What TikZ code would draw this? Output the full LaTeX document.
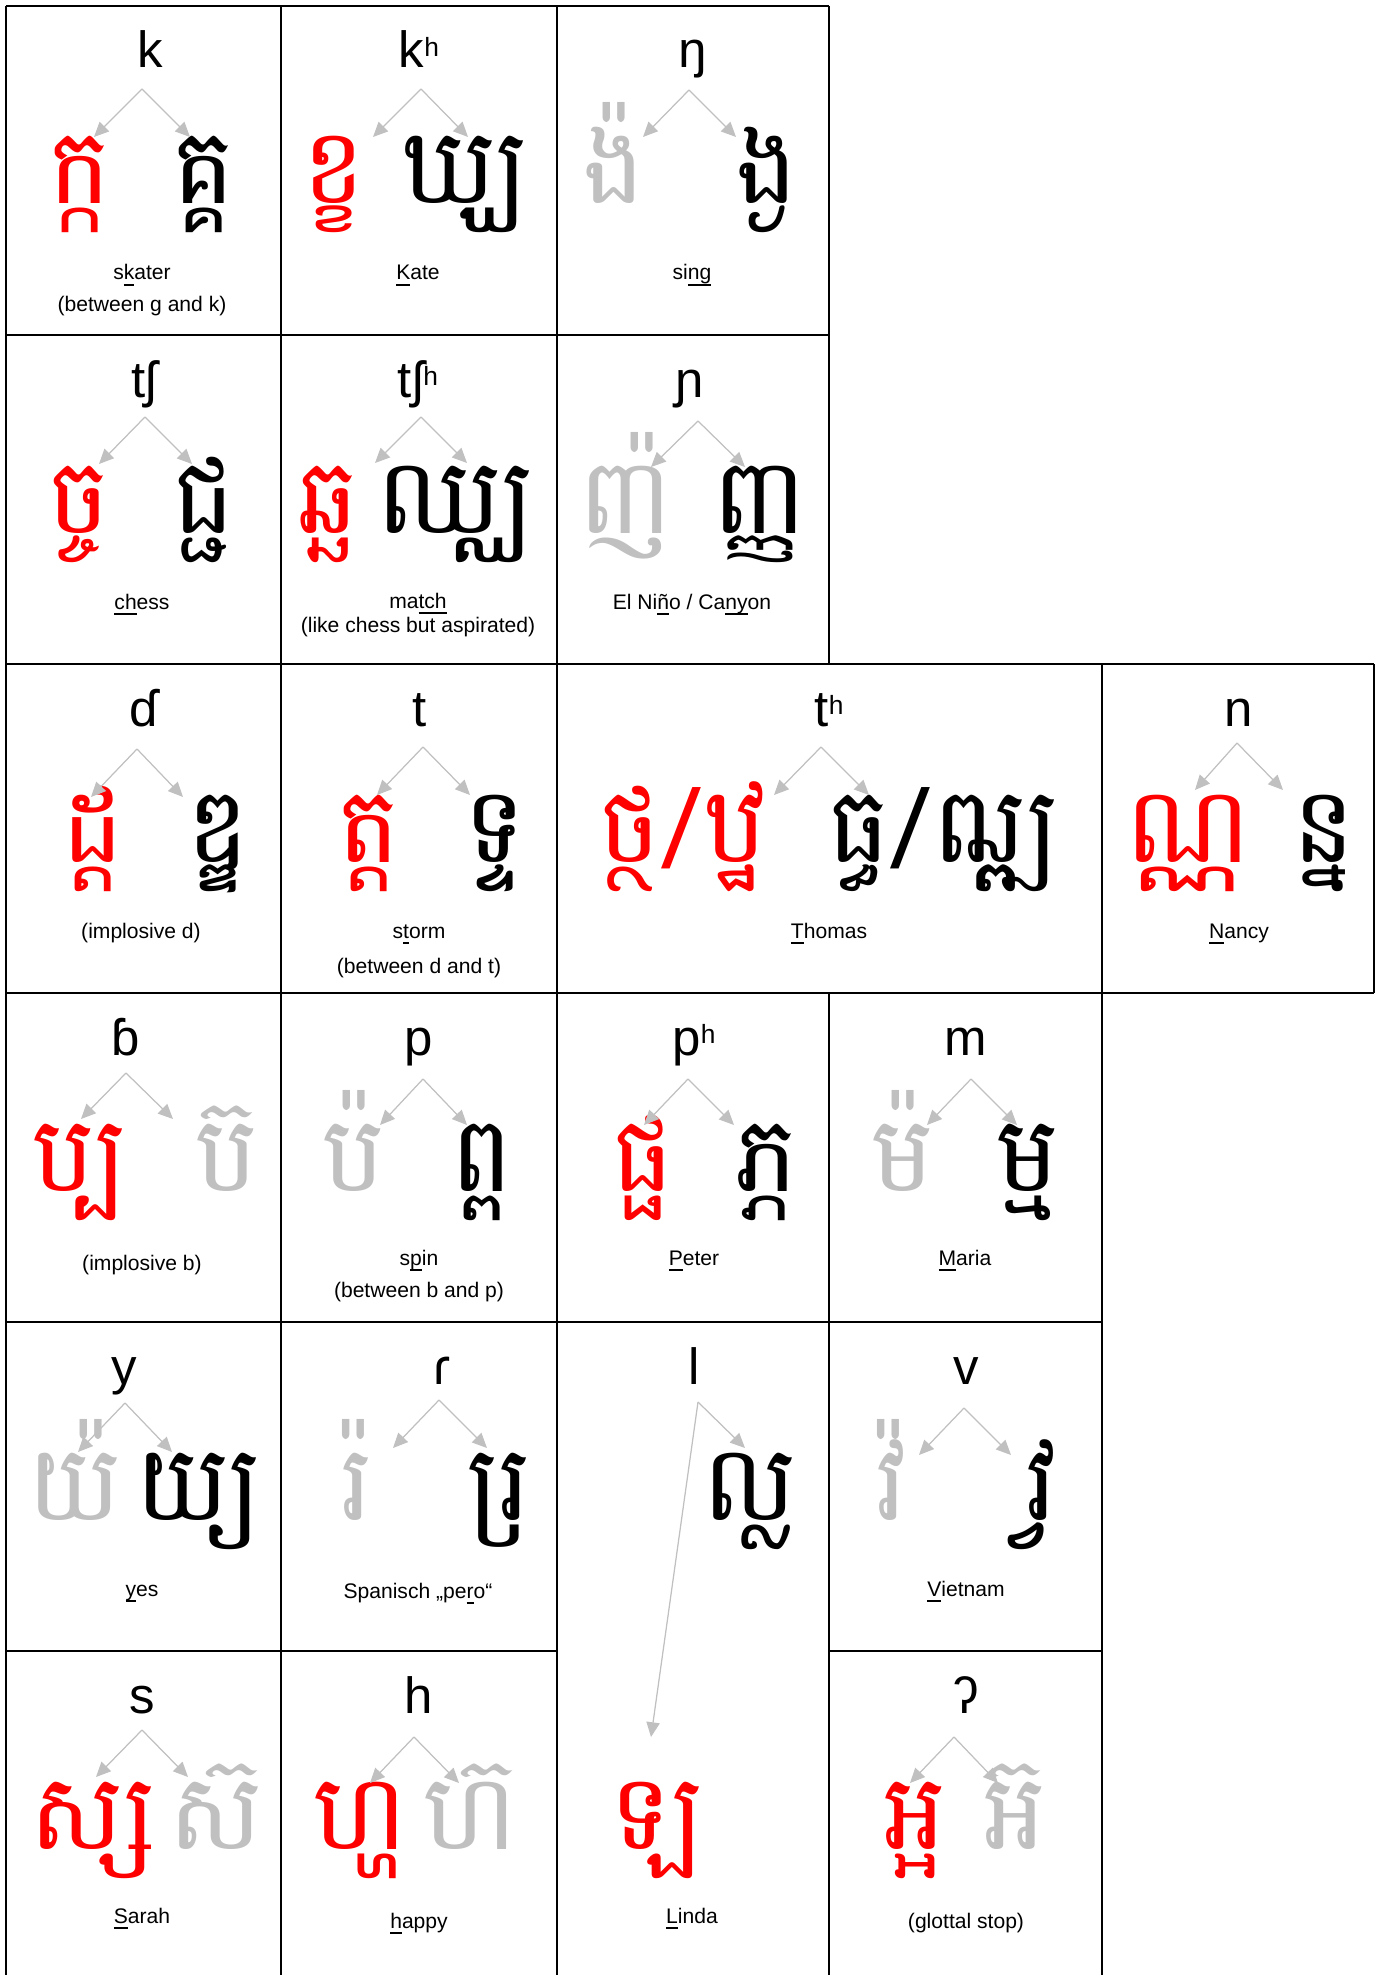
\documentclass[tikz,border=0pt]{standalone}
\usepackage{fontspec}
\setmainfont{Liberation Sans}
\newfontfamily\khmerfont[Script=Khmer]{Battambang}
\usetikzlibrary{arrows.meta}
\definecolor{cRed}{HTML}{FF0000}
\definecolor{cGrey}{HTML}{C0C0C0}
\definecolor{cInk}{HTML}{000000}
\newcommand\asp{\raisebox{3.4pt}{\fontsize{7.5}{8}\selectfont h}}
\newcommand\ul[1]{\underline{\smash{#1}}}
\tikzset{
  every picture/.style={line width=0.35pt},
  rule/.style={draw=cInk, line width=0.35pt},
  ipa/.style={anchor=base, inner sep=0pt, font=\fontsize{14.5}{16}\selectfont, text=cInk},
  gly/.style={anchor=base, inner sep=0pt, font=\khmerfont\fontsize{30}{32}\selectfont},
  rgly/.style={gly, text=cRed},
  bgly/.style={gly, text=cInk},
  ggly/.style={gly, text=cGrey},
  lab/.style={anchor=base, inner sep=0pt, font=\fontsize{6}{7}\selectfont, text=cInk},
  split/.style={-{Triangle[length=4.2pt,width=3.8pt]}, draw=cGrey, fill=cGrey, line width=0.35pt},
}

\begin{document}
\begin{tikzpicture}[x=1cm,y=1cm]
\useasboundingbox (0,0) rectangle (13.83,-19.75);

% ================================================== table rules
\draw[rule] (0.06,-0.06) -- (8.29,-0.06);
\draw[rule] (0.06,-3.35) -- (8.29,-3.35);
\draw[rule] (0.06,-6.64) -- (13.74,-6.64);
\draw[rule] (0.06,-9.93) -- (13.74,-9.93);
\draw[rule] (0.06,-13.22) -- (11.02,-13.22);
\draw[rule] (0.06,-16.51) -- (5.57,-16.51);
\draw[rule] (8.29,-16.51) -- (11.02,-16.51);
\draw[rule] (0.06,-0.06) -- (0.06,-19.75);
\draw[rule] (2.81,-0.06) -- (2.81,-19.75);
\draw[rule] (5.57,-0.06) -- (5.57,-19.75);
\draw[rule] (8.29,-0.06) -- (8.29,-6.64);
\draw[rule] (8.29,-9.93) -- (8.29,-19.75);
\draw[rule] (11.02,-6.64) -- (11.02,-19.75);
\draw[rule] (13.74,-6.64) -- (13.74,-9.93);

% ================================================== row 1: k, kh, ng
\begin{scope}[yshift=-0.06cm]
\node[ipa] (kIpa) at (1.50,-0.62) {k};
\coordinate (kTop) at (1.42,-0.83);
\coordinate (kL) at (0.94,-1.31);
\coordinate (kR) at (1.90,-1.31);
\node[rgly] (kRed) at (0.80,-1.98) {ក្ក};
\node[bgly] (kBlack) at (2.04,-1.98) {គ្គ};
\node[lab] (kLab) at (1.42,-2.74) {s\ul{k}ater};
\node[lab] (kLabB) at (1.42,-3.06) {(between g and k)};
\draw[split] (kTop) -- (kL);
\draw[split] (kTop) -- (kR);

\node[ipa] (khIpa) at (4.19,-0.62) {k\asp};
\coordinate (khTop) at (4.21,-0.83);
\coordinate (khL) at (3.73,-1.31);
\coordinate (khR) at (4.68,-1.31);
\node[rgly] (khRed) at (3.34,-1.98) {ខ្ខ};
\node[bgly] (khBlack) at (4.65,-1.98) {ឃ្ឃ};
\node[lab] (khLab) at (4.18,-2.74) {\ul{K}ate};
\draw[split] (khTop) -- (khL);
\draw[split] (khTop) -- (khR);

\node[ipa] (ngIpa) at (6.93,-0.62) {ŋ};
\coordinate (ngTop) at (6.89,-0.84);
\coordinate (ngL) at (6.43,-1.31);
\coordinate (ngR) at (7.36,-1.31);
\node[ggly] (ngGrey) at (6.14,-1.98) {ង៉};
\node[bgly] (ngBlack) at (7.67,-1.98) {ង្ង};
\node[lab] (ngLab) at (6.92,-2.74) {si\ul{ng}};
\draw[split] (ngTop) -- (ngL);
\draw[split] (ngTop) -- (ngR);
\end{scope}

% ================================================== row 2: tsh, tshh, ny
\begin{scope}[yshift=-3.35cm]
\node[ipa] (chIpa) at (1.44,-0.62) {tʃ};
\coordinate (chTop) at (1.45,-0.82);
\coordinate (chL) at (0.99,-1.29);
\coordinate (chR) at (1.92,-1.29);
\node[rgly] (chRed) at (0.79,-1.98) {ច្ច};
\node[bgly] (chBlack) at (2.04,-1.98) {ជ្ជ};
\node[lab] (chLab) at (1.42,-2.74) {\ul{ch}ess};
\draw[split] (chTop) -- (chL);
\draw[split] (chTop) -- (chR);

\node[ipa] (chhIpa) at (4.18,-0.62) {tʃ\asp};
\coordinate (chhTop) at (4.21,-0.82);
\coordinate (chhL) at (3.75,-1.28);
\coordinate (chhR) at (4.67,-1.28);
\node[rgly] (chhRed) at (3.28,-1.98) {ឆ្ឆ};
\node[bgly] (chhBlack) at (4.55,-1.98) {ឈ្ឈ};
\node[lab] (chhLab) at (4.18,-2.73) {ma\ul{tch}};
\node[lab] (chhLabB) at (4.18,-2.97) {(like chess but aspirated)};
\draw[split] (chhTop) -- (chhL);
\draw[split] (chhTop) -- (chhR);

\node[ipa] (nyIpa) at (6.90,-0.62) {ɲ};
\coordinate (nyTop) at (6.98,-0.86);
\coordinate (nyL) at (6.51,-1.32);
\coordinate (nyR) at (7.45,-1.32);
\node[ggly] (nyGrey) at (6.26,-1.98) {ញ៉};
\node[bgly] (nyBlack) at (7.60,-1.98) {ញ្ញ};
\node[lab] (nyLab) at (6.92,-2.74) {El Ni\ul{ñ}o / Ca\ul{ny}on};
\draw[split] (nyTop) -- (nyL);
\draw[split] (nyTop) -- (nyR);
\end{scope}

% ================================================== row 3: implosive d, t, th, n
\begin{scope}[yshift=-6.64cm]
\node[ipa] (ddIpa) at (1.44,-0.62) {ɗ};
\coordinate (ddTop) at (1.37,-0.85);
\coordinate (ddL) at (0.91,-1.33);
\coordinate (ddR) at (1.83,-1.33);
\node[rgly] (ddRed) at (0.93,-1.98) {ដ្ដ};
\node[bgly] (ddBlack) at (2.18,-1.98) {ឌ្ឌ};
\node[lab] (ddLab) at (1.41,-2.74) {(implosive d)};
\draw[split] (ddTop) -- (ddL);
\draw[split] (ddTop) -- (ddR);

\node[ipa] (tIpa) at (4.20,-0.62) {t};
\coordinate (tTop) at (4.23,-0.83);
\coordinate (tL) at (3.77,-1.31);
\coordinate (tR) at (4.70,-1.31);
\node[rgly] (tRed) at (3.69,-1.98) {ត្ត};
\node[bgly] (tBlack) at (4.95,-1.98) {ទ្ទ};
\node[lab] (tLab) at (4.19,-2.74) {s\ul{t}orm};
\node[lab] (tLabB) at (4.19,-3.09) {(between d and t)};
\draw[split] (tTop) -- (tL);
\draw[split] (tTop) -- (tR);

\node[ipa] (thIpa) at (8.29,-0.62) {t\asp};
\coordinate (thTop) at (8.21,-0.83);
\coordinate (thL) at (7.74,-1.31);
\coordinate (thR) at (8.69,-1.31);
\node[rgly] (thRed) at (6.83,-1.98) {ថ្ថ/ឋ្ឋ};
\node[bgly] (thBlack) at (9.43,-1.98) {ធ្ធ/ឍ្ឍ};
\node[lab] (thLab) at (8.29,-2.74) {\ul{T}homas};
\draw[split] (thTop) -- (thL);
\draw[split] (thTop) -- (thR);

\node[ipa] (nIpa) at (12.39,-0.62) {n};
\coordinate (nTop) at (12.37,-0.79);
\coordinate (nL) at (11.95,-1.26);
\coordinate (nR) at (12.83,-1.26);
\node[rgly] (nRed) at (11.88,-1.98) {ណ្ណ};
\node[bgly] (nBlack) at (13.24,-1.98) {ន្ន};
\node[lab] (nLab) at (12.39,-2.74) {\ul{N}ancy};
\draw[split] (nTop) -- (nL);
\draw[split] (nTop) -- (nR);
\end{scope}

% ================================================== row 4: implosive b, p, ph, m
\begin{scope}[yshift=-9.93cm]
\node[ipa] (bbIpa) at (1.26,-0.62) {ɓ};
\coordinate (bbTop) at (1.26,-0.80);
\coordinate (bbL) at (0.81,-1.26);
\coordinate (bbR) at (1.73,-1.26);
\node[rgly] (bbRed) at (0.80,-1.98) {ប្ប};
\node[ggly] (bbGrey) at (2.27,-1.98) {ប៊};
\node[lab] (bbLab) at (1.42,-2.77) {(implosive b)};
\draw[split] (bbTop) -- (bbL);
\draw[split] (bbTop) -- (bbR);

\node[ipa] (pIpa) at (4.19,-0.62) {p};
\coordinate (pTop) at (4.23,-0.86);
\coordinate (pL) at (3.80,-1.32);
\coordinate (pR) at (4.67,-1.32);
\node[ggly] (pGrey) at (3.54,-1.98) {ប៉};
\node[bgly] (pBlack) at (4.82,-1.98) {ព្ព};
\node[lab] (pLab) at (4.19,-2.72) {s\ul{p}in};
\node[lab] (pLabB) at (4.19,-3.04) {(between b and p)};
\draw[split] (pTop) -- (pL);
\draw[split] (pTop) -- (pR);

\node[ipa] (phIpa) at (6.94,-0.62) {p\asp};
\coordinate (phTop) at (6.88,-0.86);
\coordinate (phL) at (6.44,-1.32);
\coordinate (phR) at (7.34,-1.32);
\node[rgly] (phRed) at (6.43,-1.98) {ផ្ផ};
\node[bgly] (phBlack) at (7.67,-1.98) {ភ្ភ};
\node[lab] (phLab) at (6.94,-2.72) {\ul{P}eter};
\draw[split] (phTop) -- (phL);
\draw[split] (phTop) -- (phR);

\node[ipa] (mIpa) at (9.66,-0.62) {m};
\coordinate (mTop) at (9.71,-0.86);
\coordinate (mL) at (9.27,-1.32);
\coordinate (mR) at (10.17,-1.32);
\node[ggly] (mGrey) at (9.03,-1.98) {ម៉};
\node[bgly] (mBlack) at (10.28,-1.98) {ម្ម};
\node[lab] (mLab) at (9.65,-2.72) {\ul{M}aria};
\draw[split] (mTop) -- (mL);
\draw[split] (mTop) -- (mR);
\end{scope}

% ================================================== row 5: y, r, l, v
\begin{scope}[yshift=-13.22cm]
\node[ipa] (yIpa) at (1.24,-0.62) {y};
\coordinate (yTop) at (1.25,-0.81);
\coordinate (yL) at (0.78,-1.30);
\coordinate (yR) at (1.72,-1.30);
\node[ggly] (yGrey) at (0.75,-1.98) {យ៉};
\node[bgly] (yBlack) at (1.98,-1.98) {យ្យ};
\node[lab] (yLab) at (1.42,-2.74) {\ul{y}es};
\draw[split] (yTop) -- (yL);
\draw[split] (yTop) -- (yR);

\node[ipa] (rIpa) at (4.42,-0.62) {ɾ};
\coordinate (rTop) at (4.39,-0.78);
\coordinate (rL) at (3.93,-1.26);
\coordinate (rR) at (4.87,-1.26);
\node[ggly] (rGrey) at (3.57,-1.98) {រ៉};
\node[bgly] (rBlack) at (4.99,-1.98) {រ្រ};
\node[lab] (rLab) at (4.18,-2.76) {Spanisch „pe\ul{r}o“};
\draw[split] (rTop) -- (rL);
\draw[split] (rTop) -- (rR);

\node[ipa] (lIpa) at (6.94,-0.62) {l};
\coordinate (lTop) at (6.98,-0.80);
\coordinate (lR) at (7.45,-1.26);
\coordinate (lDown) at (6.51,-4.15);
\node[bgly] (lBlack) at (7.50,-1.98) {ល្ល};
\draw[split] (lTop) -- (lR);
\draw[split] (lTop) -- (lDown);

\node[ipa] (vIpa) at (9.66,-0.62) {v};
\coordinate (vTop) at (9.64,-0.86);
\coordinate (vL) at (9.19,-1.33);
\coordinate (vR) at (10.11,-1.33);
\node[ggly] (vGrey) at (8.92,-1.98) {វ៉};
\node[bgly] (vBlack) at (10.42,-1.98) {វ្វ};
\node[lab] (vLab) at (9.66,-2.74) {\ul{V}ietnam};
\draw[split] (vTop) -- (vL);
\draw[split] (vTop) -- (vR);
\end{scope}

% ================================================== row 6: s, h, Linda, glottal stop
\begin{scope}[yshift=-16.51cm]
\node[ipa] (sIpa) at (1.42,-0.62) {s};
\coordinate (sTop) at (1.42,-0.79);
\coordinate (sL) at (0.96,-1.26);
\coordinate (sR) at (1.88,-1.26);
\node[rgly] (sRed) at (0.93,-1.98) {ស្ស};
\node[ggly] (sGrey) at (2.16,-1.98) {ស៊};
\node[lab] (sLab) at (1.42,-2.72) {\ul{S}arah};
\draw[split] (sTop) -- (sL);
\draw[split] (sTop) -- (sR);

\node[ipa] (hIpa) at (4.19,-0.62) {h};
\coordinate (hTop) at (4.14,-0.86);
\coordinate (hL) at (3.70,-1.32);
\coordinate (hR) at (4.59,-1.32);
\node[rgly] (hRed) at (3.61,-1.98) {ហ្ហ};
\node[ggly] (hGrey) at (4.71,-1.98) {ហ៊};
\node[lab] (hLab) at (4.19,-2.77) {\ul{h}appy};
\draw[split] (hTop) -- (hL);
\draw[split] (hTop) -- (hR);

\node[rgly] (lRed) at (6.57,-1.98) {ឡ};
\node[lab] (lLab) at (6.92,-2.72) {\ul{L}inda};

\node[ipa] (qIpa) at (9.66,-0.62) {ʔ};
\coordinate (qTop) at (9.54,-0.86);
\coordinate (qL) at (9.10,-1.32);
\coordinate (qR) at (9.98,-1.32);
\node[rgly] (qRed) at (9.15,-1.98) {អ្អ};
\node[ggly] (qGrey) at (10.15,-1.98) {អ៊};
\node[lab] (qLab) at (9.66,-2.77) {(glottal stop)};
\draw[split] (qTop) -- (qL);
\draw[split] (qTop) -- (qR);
\end{scope}

\end{tikzpicture}
\end{document}
